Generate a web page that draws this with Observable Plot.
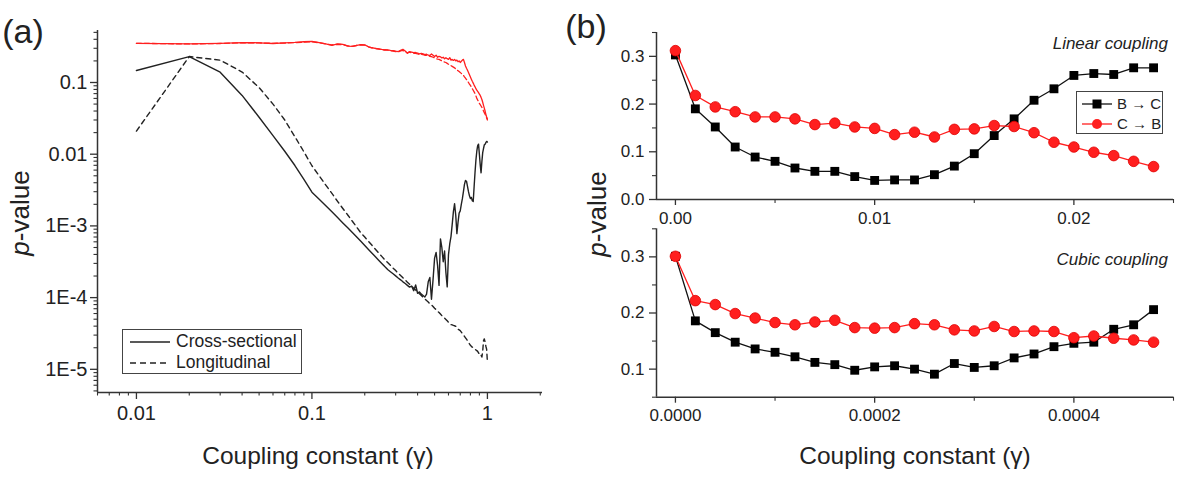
<!DOCTYPE html>
<html><head><meta charset="utf-8">
<script src="https://cdn.jsdelivr.net/npm/d3@7"></script>
<script src="https://cdn.jsdelivr.net/npm/@observablehq/plot@0.6"></script>
<style>
body{margin:0;background:#fff;}
#root{position:relative;width:1177px;height:482px;font-family:"Liberation Sans",Arial,sans-serif;color:#222;overflow:hidden;background:#fff;}
.lbl{position:absolute;white-space:nowrap;line-height:1;transform:translate(-50%,-50%);}
.rot{transform:translate(-50%,-50%) rotate(-90deg);}
.right{transform:translate(-100%,-50%);}
.legend{position:absolute;border:1.5px solid #444;background:#fff;box-sizing:border-box;}
.legend .row{position:absolute;left:0;display:flex;align-items:center;white-space:nowrap;line-height:1;}
.legend svg{display:block;}
</style></head><body><div id="root"></div>
<script>
// ---------- Panel (a) data ----------
const xA = [0.01,0.02,0.03,0.04,0.05,0.06,0.07,0.08,0.09,0.10,
  0.11,0.12,0.13,0.14,0.15,0.16,0.17,0.18,0.19,0.20,
  0.21,0.22,0.23,0.24,0.25,0.26,0.27,0.28,0.29,0.30,
  0.31,0.32,0.33,0.34,0.35,0.36,0.37,0.38,0.39,0.40,
  0.41,0.42,0.43,0.44,0.45,0.46,0.47,0.48,0.49,0.50,
  0.51,0.52,0.53,0.54,0.55,0.56,0.57,0.58,0.59,0.60,
  0.61,0.62,0.63,0.64,0.65,0.66,0.67,0.68,0.69,0.70,
  0.71,0.72,0.73,0.74,0.75,0.76,0.77,0.78,0.79,0.80,
  0.81,0.82,0.83,0.84,0.85,0.86,0.87,0.88,0.89,0.90,
  0.91,0.92,0.93,0.94,0.95,0.96,0.97,0.98,0.99,1.00];
const crossBlack = [0.147,0.23,0.139,0.066,0.0328,0.0182,0.011,0.00695,0.00444,0.00295,
  0.00236,0.00191,0.00157,0.00131,0.0011,0.00094,0.00081,0.0007,0.00061,0.000533,
  0.00047,0.000417,0.000372,0.000333,0.0003,0.000271,0.000247,0.00023,0.000215,0.000201,
  0.000188,0.000177,0.000166,0.000157,0.000148,0.00014,0.000145,0.000125,0.00015,0.000115,
  0.00012,0.000112,0.000107,0.000102,0.000112,0.000166,0.000191,0.000095,0.000178,0.000355,
  0.000427,0.000282,0.000148,0.00066,0.0005,0.000316,0.000447,0.000224,0.000141,0.000398,
  0.00056,0.00071,0.00105,0.00158,0.00204,0.00141,0.00078,0.00112,0.00151,0.00162,
  0.002,0.0024,0.003,0.0038,0.0043,0.0042,0.00355,0.003,0.00263,0.0024,
  0.0025,0.00224,0.00219,0.00355,0.0056,0.0083,0.011,0.0132,0.0138,0.01,
  0.0071,0.0055,0.0079,0.0105,0.012,0.0135,0.0138,0.0145,0.0151,0.0148];
const longBlack = [0.021,0.23,0.205,0.14,0.085,0.05,0.03,0.0175,0.0108,0.0069,
  0.005,0.0037,0.00284,0.0022,0.00175,0.00142,0.00116,0.00096,0.0008,0.0007,
  0.00061,0.000536,0.000473,0.00042,0.000376,0.000338,0.000308,0.000282,0.000258,0.000238,
  0.000219,0.000203,0.000189,0.000176,0.000164,0.000154,0.000144,0.000135,0.000128,0.00012,
  0.000113,0.000107,0.000101,0.000096,0.000091,0.000087,0.000082,0.000079,0.000075,0.000071,
  0.000068,0.0000645,0.000062,0.000059,0.000056,0.000054,0.0000516,0.0000495,0.0000474,0.0000455,
  0.0000437,0.000042,0.0000417,0.000041,0.0000405,0.0000398,0.000038,0.0000363,0.0000355,0.0000347,
  0.0000331,0.0000316,0.00003,0.0000288,0.0000275,0.0000263,0.0000251,0.000024,0.0000226,0.0000216,
  0.0000209,0.0000204,0.00002,0.0000195,0.000019,0.0000186,0.0000182,0.0000178,0.000017,0.0000162,
  0.0000155,0.0000158,0.0000148,0.0000178,0.000025,0.0000266,0.000024,0.000021,0.000019,0.0000126];
const crossRed = [0.352,0.345,0.352,0.36,0.358,0.35,0.358,0.362,0.37,0.375,
  0.36,0.345,0.33,0.345,0.34,0.322,0.318,0.33,0.338,0.335,
  0.315,0.305,0.3,0.295,0.29,0.286,0.285,0.28,0.278,0.273,
  0.27,0.28,0.29,0.275,0.255,0.27,0.265,0.26,0.262,0.257,
  0.25,0.255,0.251,0.245,0.248,0.24,0.238,0.25,0.24,0.23,
  0.24,0.225,0.232,0.228,0.22,0.225,0.214,0.222,0.215,0.21,
  0.222,0.205,0.21,0.203,0.21,0.2,0.205,0.195,0.2,0.19,
  0.198,0.205,0.21,0.19,0.17,0.158,0.148,0.138,0.128,0.119,
  0.111,0.104,0.098,0.092,0.087,0.082,0.078,0.075,0.072,0.069,
  0.066,0.062,0.058,0.053,0.048,0.044,0.04,0.036,0.033,0.031];
const longRed = [0.352,0.345,0.35,0.358,0.356,0.352,0.355,0.36,0.365,0.37,
  0.358,0.345,0.335,0.34,0.338,0.325,0.32,0.328,0.335,0.332,
  0.315,0.305,0.298,0.293,0.288,0.284,0.282,0.278,0.275,0.27,
  0.268,0.275,0.28,0.27,0.258,0.265,0.26,0.255,0.255,0.25,
  0.246,0.248,0.244,0.24,0.24,0.235,0.232,0.23,0.225,0.22,
  0.215,0.212,0.21,0.205,0.2,0.197,0.193,0.19,0.185,0.18,
  0.176,0.172,0.168,0.164,0.16,0.155,0.15,0.146,0.142,0.138,
  0.134,0.13,0.126,0.12,0.115,0.11,0.105,0.1,0.095,0.091,
  0.087,0.082,0.078,0.074,0.07,0.065,0.06,0.057,0.054,0.051,
  0.049,0.047,0.045,0.043,0.04,0.038,0.036,0.034,0.032,0.03];
const xTicksA = [0.01,0.1,1];
const xTickLabelsA = ["0.01","0.1","1"];
const yTicksA = [1e-5,1e-4,1e-3,0.01,0.1];
const yTickLabelsA = ["1E-5","1E-4","1E-3","0.01","0.1"];
const legendA = ["Cross-sectional","Longitudinal"];

// ---------- Panel (b) data ----------
const xLin = [0,0.001,0.002,0.003,0.004,0.005,0.006,0.007,0.008,0.009,0.010,0.011,0.012,
  0.013,0.014,0.015,0.016,0.017,0.018,0.019,0.020,0.021,0.022,0.023,0.024];
const linBC = [0.303,0.190,0.152,0.110,0.089,0.080,0.066,0.059,0.059,0.048,0.040,0.041,0.041,
  0.052,0.070,0.096,0.134,0.169,0.208,0.232,0.260,0.264,0.262,0.276,0.276];
const linCB = [0.312,0.218,0.194,0.184,0.173,0.173,0.169,0.157,0.160,0.152,0.149,0.136,0.141,
  0.131,0.147,0.148,0.155,0.153,0.140,0.120,0.110,0.099,0.092,0.080,0.069];
const xCub = [0,0.00002,0.00004,0.00006,0.00008,0.0001,0.00012,0.00014,0.00016,0.00018,0.0002,0.00022,0.00024,
  0.00026,0.00028,0.0003,0.00032,0.00034,0.00036,0.00038,0.0004,0.00042,0.00044,0.00046,0.00048];
const cubBC = [0.301,0.186,0.165,0.148,0.136,0.130,0.122,0.112,0.108,0.098,0.104,0.106,0.100,
  0.091,0.110,0.103,0.106,0.120,0.127,0.140,0.146,0.148,0.171,0.179,0.206];
const cubCB = [0.301,0.222,0.215,0.199,0.191,0.183,0.179,0.184,0.187,0.174,0.173,0.174,0.181,
  0.179,0.170,0.168,0.176,0.167,0.168,0.167,0.156,0.159,0.155,0.152,0.148];
const xTicksLin = [0,0.01,0.02], xTickLabelsLin = ["0.00","0.01","0.02"];
const xTicksCub = [0,0.0002,0.0004], xTickLabelsCub = ["0.0000","0.0002","0.0004"];
const yTicksLin = [0,0.1,0.2,0.3], yTickLabelsLin = ["0.0","0.1","0.2","0.3"];
const yTicksCub = [0.1,0.2,0.3], yTickLabelsCub = ["0.1","0.2","0.3"];
const legendB = ["B \u2192 C","C \u2192 B"];

// ---------- drawing ----------
const root = document.getElementById("root");
const FONT = '"Liberation Sans", Arial, sans-serif';
const AX = "#333";
const RED = "#ff1f1f";
function place(svg){
  svg.style.position="absolute"; svg.style.left="0px"; svg.style.top="0px";
  svg.style.background="transparent"; svg.style.overflow="visible";
  root.appendChild(svg);
}
const near = (a,b)=>Math.abs(a/b-1)<1e-6;
const lab = (ticks, labels) => d => labels[ticks.findIndex(t => t===d || near(t,d))];

// Panel (a)
const xDomA = [0.006, 2.06], yDomA = [4.75e-6, 0.531];
const xMinorA = d3.scaleLog().domain(xDomA).ticks().filter(t => !xTicksA.some(m => near(m,t)));
const yMinorA = d3.scaleLog().domain(yDomA).ticks().filter(t => !yTicksA.some(m => near(m,t)));
place(Plot.plot({
  width:1177, height:482,
  marginLeft:97, marginRight:1177-542, marginTop:30, marginBottom:482-392,
  x:{type:"log", domain:xDomA}, y:{type:"log", domain:yDomA},
  style:{fontFamily:FONT, fontSize:"20px", color:"#222", background:"transparent"},
  marks:[
    Plot.axisY({ticks:yTicksA, tickFormat:lab(yTicksA,yTickLabelsA), tickSize:7, tickPadding:3, label:null, stroke:AX, strokeWidth:1.3}),
    Plot.axisY({ticks:yMinorA, tickFormat:()=>"", tickSize:3.5, label:null, stroke:AX, strokeWidth:1.1}),
    Plot.axisX({ticks:xTicksA, tickFormat:lab(xTicksA,xTickLabelsA), tickSize:7, tickPadding:6, label:null, stroke:AX, strokeWidth:1.3}),
    Plot.axisX({ticks:xMinorA, tickFormat:()=>"", tickSize:3.5, label:null, stroke:AX, strokeWidth:1.1}),
    Plot.ruleX([xDomA[0]], {stroke:AX, strokeWidth:1.5}),
    Plot.ruleY([yDomA[0]], {stroke:AX, strokeWidth:1.5}),
    Plot.lineY(longRed, {x:xA, stroke:RED, strokeWidth:1.3, strokeDasharray:"5,3"}),
    Plot.lineY(crossRed, {x:xA, stroke:RED, strokeWidth:1.3}),
    Plot.lineY(longBlack, {x:xA, stroke:"#222", strokeWidth:1.4, strokeDasharray:"5,4"}),
    Plot.lineY(crossBlack, {x:xA, stroke:"#222", strokeWidth:1.4})
  ]
}));

// Panel (b) common
function panelB(opts){
  const {xDom, yDom, top, bottom, xT, xL, yT, yL, xMinor, yMinor, s1, s2, xs} = opts;
  place(Plot.plot({
    width:1177, height:482,
    marginLeft:656, marginRight:1177-1173, marginTop:top, marginBottom:482-bottom,
    x:{domain:xDom}, y:{domain:yDom},
    style:{fontFamily:FONT, fontSize:"17px", color:"#222", background:"transparent"},
    marks:[
      Plot.axisY({ticks:yT, tickFormat:lab(yT,yL), tickSize:7, tickPadding:5, label:null, stroke:AX, strokeWidth:1.3}),
      Plot.axisY({ticks:yMinor, tickFormat:()=>"", tickSize:4, label:null, stroke:AX, strokeWidth:1.1}),
      Plot.axisX({ticks:xT, tickFormat:lab(xT,xL), tickSize:6, tickPadding:6, label:null, stroke:AX, strokeWidth:1.3}),
      Plot.axisX({ticks:xMinor, tickFormat:()=>"", tickSize:4, label:null, stroke:AX, strokeWidth:1.1}),
      Plot.ruleX([xDom[0]], {stroke:AX, strokeWidth:1.5}),
      Plot.ruleY([yDom[0]], {stroke:AX, strokeWidth:1.5}),
      Plot.lineY(s1, {x:xs, stroke:"#111", strokeWidth:1.3}),
      Plot.dot(s1, {x:xs, y:s1, symbol:"square", r:5, fill:"#000", stroke:"none"}),
      Plot.lineY(s2, {x:xs, stroke:RED, strokeWidth:1.3}),
      Plot.dot(s2, {x:xs, y:s2, symbol:"circle", r:5.3, fill:RED, stroke:"#e00000", strokeWidth:0.8})
    ]
  }));
}
panelB({xDom:[-0.00095,0.025], yDom:[0,0.35], top:32, bottom:199,
  xT:xTicksLin, xL:xTickLabelsLin, yT:yTicksLin, yL:yTickLabelsLin,
  xMinor:[0.005,0.015,0.025], yMinor:[0.05,0.15,0.25,0.35], s1:linBC, s2:linCB, xs:xLin});
panelB({xDom:[-0.000019,0.0005], yDom:[0.05,0.35], top:228.3, bottom:396.7,
  xT:xTicksCub, xL:xTickLabelsCub, yT:yTicksCub, yL:yTickLabelsCub,
  xMinor:[0.0001,0.0003,0.0005], yMinor:[0.05,0.15,0.25,0.35], s1:cubBC, s2:cubCB, xs:xCub});

// ---------- text overlays ----------
function label(html, x, y, size, cls, extra){
  const d = document.createElement("div");
  d.className = "lbl" + (cls ? " " + cls : "");
  d.style.left = x + "px"; d.style.top = y + "px"; d.style.fontSize = size + "px";
  if (extra) Object.assign(d.style, extra);
  d.innerHTML = html; root.appendChild(d);
}
label("(a)", 23, 31, 34);
label("(b)", 586, 26, 34);
label("<i>p</i>-value", 20, 213, 26, "rot");
label("<i>p</i>-value", 597, 214, 26, "rot");
label("Coupling constant (\u03b3)", 318, 456, 24.5);
label("Coupling constant (\u03b3)", 915, 456, 24.5);
label("Linear coupling", 1168, 43, 17, "right", {fontStyle:"italic"});
label("Cubic coupling", 1168, 259, 17, "right", {fontStyle:"italic"});

// legend (a)
(function(){
  const box = document.createElement("div"); box.className = "legend";
  Object.assign(box.style, {left:"122px", top:"329px", width:"180px", height:"45px"});
  legendA.forEach((t, i) => {
    const r = document.createElement("div"); r.className = "row";
    Object.assign(r.style, {top:(i*21+2)+"px", height:"20px", left:"7px", fontSize:"17.5px"});
    r.innerHTML = `<svg width="42" height="10"><line x1="0" y1="5" x2="40" y2="5" stroke="#222" stroke-width="1.4" ${i ? 'stroke-dasharray="6,4"' : ''}/></svg><span style="margin-left:4px">${t}</span>`;
    box.appendChild(r);
  });
  root.appendChild(box);
})();
// legend (b)
(function(){
  const box = document.createElement("div"); box.className = "legend";
  Object.assign(box.style, {left:"1076px", top:"91px", width:"87px", height:"43px"});
  legendB.forEach((t, i) => {
    const r = document.createElement("div"); r.className = "row";
    Object.assign(r.style, {top:(i*20+3)+"px", height:"17px", left:"5px", fontSize:"15px"});
    const c = i ? RED : "#111";
    const m = i ? `<circle cx="15" cy="7" r="5" fill="${RED}"/>` : `<rect x="10.5" y="2.5" width="9" height="9" fill="#000"/>`;
    r.innerHTML = `<svg width="31" height="14"><line x1="0" y1="7" x2="30" y2="7" stroke="${c}" stroke-width="1.3"/>${m}</svg><span style="margin-left:4px">${t}</span>`;
    box.appendChild(r);
  });
  root.appendChild(box);
})();
</script></body></html>
